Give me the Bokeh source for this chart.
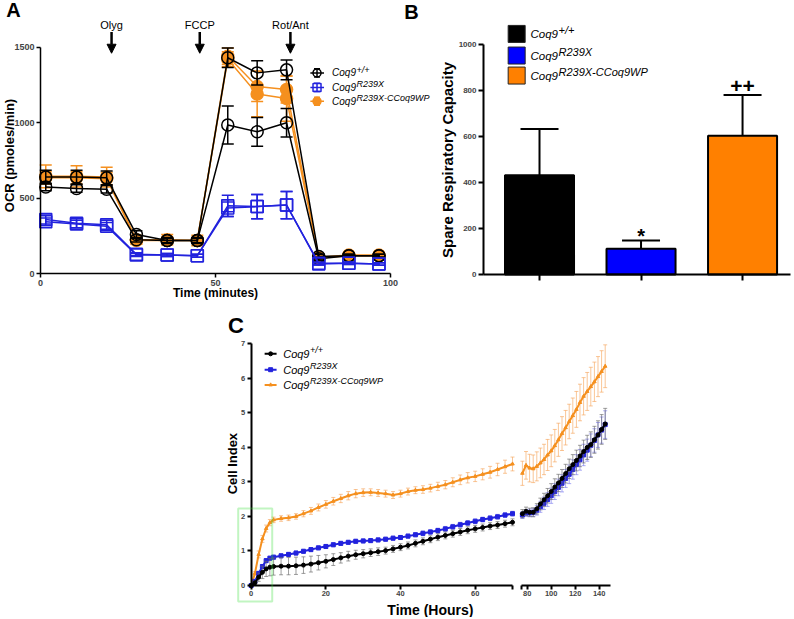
import math
from bokeh.plotting import figure
from bokeh.layouts import column, row
from bokeh.models import Range1d, Arrow, NormalHead, FixedTicker, BoxAnnotation
from bokeh.core.properties import value
from bokeh.embed import file_html
from bokeh.resources import INLINE

FONT = "Liberation Sans"
BLACK = "#000000"
BLUE = "#2222dd"
ORANGE = "#f5901f"
BAR_COLORS = ["#000000", "#0000ff", "#ff8000"]

# ---------------- shared legend text ----------------
genotype_base = "Coq9"
genotype_sup = ["+/+", "R239X", "R239X-CCoq9WP"]

# ---------------- Panel A : OCR ----------------
ocr_minutes = [1.5, 10.3, 18.9, 27.4, 36.2, 44.8, 53.5, 61.9, 70.3, 79.5, 88.1, 96.7]
ocr_wt_1 = [640, 640, 635, 260, 220, 220, 1430, 1330, 1350, 115, 120, 120]
ocr_wt_1_sd = [45, 45, 45, 25, 20, 20, 65, 80, 65, 15, 10, 10]
ocr_wt_2 = [575, 565, 560, 225, 220, 220, 985, 940, 1000, 100, 120, 120]
ocr_wt_2_sd = [25, 25, 25, 15, 15, 15, 125, 95, 95, 10, 10, 10]
ocr_mut_1 = [360, 335, 325, 130, 125, 120, 450, 445, 455, 70, 70, 65]
ocr_mut_1_sd = [30, 30, 30, 10, 10, 10, 70, 80, 90, 8, 8, 8]
ocr_mut_2 = [345, 330, 315, 125, 125, 120, 435, 445, 455, 65, 70, 65]
ocr_mut_2_sd = [25, 25, 25, 10, 10, 10, 55, 80, 90, 8, 8, 8]
ocr_res_1 = [645, 645, 640, 225, 225, 220, 1440, 1240, 1220, 110, 125, 125]
ocr_res_1_sd = [75, 70, 65, 30, 35, 35, 55, 100, 90, 10, 10, 10]
ocr_res_2 = [635, 635, 630, 220, 220, 220, 1420, 1190, 1160, 105, 120, 120]
ocr_res_2_sd = [40, 40, 40, 20, 20, 20, 50, 150, 150, 10, 10, 10]
injections = ["Olyg", "FCCP", "Rot/Ant"]
injection_minutes = [20.3, 45.5, 71.4]

# ---------------- Panel B : spare respiratory capacity ----------------
src_values = [432, 112, 603]
src_errors = [201, 36, 177]
src_marks = ["", "*", "++"]

# ---------------- Panel C : cell index ----------------
cl_hours = [0, 1, 2, 3, 4, 5, 6, 8, 10, 12, 14, 16, 18, 20, 22, 24, 26, 28, 30, 32,
            34, 36, 38, 40, 42, 44, 46, 48, 50, 52, 54, 56, 58, 60, 62, 64, 66, 68, 70]
ci_wt_l = [0.00, 0.08, 0.24, 0.38, 0.48, 0.53, 0.55, 0.56, 0.56, 0.57, 0.59, 0.62, 0.66, 0.70,
           0.75, 0.80, 0.85, 0.89, 0.92, 0.95, 0.98, 1.01, 1.06, 1.11, 1.16, 1.22, 1.28, 1.34,
           1.40, 1.45, 1.50, 1.55, 1.60, 1.64, 1.68, 1.72, 1.75, 1.79, 1.83]
ci_wt_l_sd = [0.00, 0.05, 0.12, 0.18, 0.22, 0.25, 0.25, 0.25, 0.25, 0.25, 0.24, 0.23, 0.21, 0.19,
              0.17, 0.15, 0.14, 0.13, 0.12, 0.11, 0.11, 0.10, 0.10, 0.10, 0.10, 0.10, 0.10, 0.10,
              0.10, 0.10, 0.10, 0.10, 0.10, 0.10, 0.10, 0.10, 0.10, 0.10, 0.10]
ci_mut_l = [0.00, 0.12, 0.35, 0.55, 0.72, 0.79, 0.82, 0.86, 0.90, 0.94, 0.99, 1.04, 1.09, 1.13,
            1.18, 1.22, 1.25, 1.28, 1.29, 1.30, 1.32, 1.34, 1.37, 1.39, 1.43, 1.47, 1.51, 1.55,
            1.59, 1.64, 1.70, 1.76, 1.81, 1.86, 1.91, 1.95, 1.99, 2.04, 2.08]
ci_mut_l_sd = [0.00, 0.04, 0.06, 0.06, 0.06, 0.06, 0.06, 0.06, 0.06, 0.06, 0.06, 0.06, 0.06, 0.06,
               0.06, 0.06, 0.06, 0.06, 0.06, 0.06, 0.06, 0.06, 0.06, 0.06, 0.06, 0.06, 0.07, 0.07,
               0.07, 0.07, 0.07, 0.07, 0.07, 0.07, 0.07, 0.07, 0.07, 0.07, 0.07]
ci_res_l = [0.00, 0.35, 0.90, 1.35, 1.65, 1.82, 1.90, 1.94, 1.96, 2.00, 2.08, 2.16, 2.26, 2.35,
            2.44, 2.52, 2.60, 2.66, 2.69, 2.70, 2.68, 2.66, 2.62, 2.66, 2.72, 2.76, 2.78, 2.82,
            2.87, 2.92, 2.99, 3.06, 3.12, 3.16, 3.22, 3.28, 3.36, 3.44, 3.52]
ci_res_l_sd = [0.00, 0.05, 0.10, 0.10, 0.10, 0.09, 0.08, 0.08, 0.08, 0.08, 0.09, 0.10, 0.10, 0.11,
               0.11, 0.12, 0.12, 0.12, 0.11, 0.10, 0.10, 0.10, 0.10, 0.10, 0.10, 0.10, 0.11, 0.11,
               0.12, 0.12, 0.13, 0.14, 0.15, 0.15, 0.16, 0.17, 0.18, 0.19, 0.20]

cr_hours = [76, 79, 82, 85, 88, 91, 94, 97, 100, 103, 106, 109, 112, 115, 118, 121, 124,
            127, 130, 133, 136, 139, 142, 145]
ci_wt_r = [2.08, 2.15, 2.12, 2.12, 2.22, 2.36, 2.48, 2.60, 2.72, 2.85, 2.97, 3.10, 3.24, 3.38,
           3.50, 3.62, 3.75, 3.88, 4.00, 4.08, 4.22, 4.36, 4.52, 4.68]
ci_wt_r_sd = [0.12, 0.12, 0.12, 0.13, 0.15, 0.17, 0.19, 0.21, 0.23, 0.24, 0.25, 0.26, 0.27, 0.28,
              0.29, 0.30, 0.31, 0.33, 0.35, 0.37, 0.39, 0.41, 0.43, 0.45]
ci_mut_r = [2.04, 2.10, 2.10, 2.12, 2.18, 2.28, 2.38, 2.49, 2.60, 2.72, 2.84, 2.96, 3.10, 3.22,
            3.36, 3.50, 3.64, 3.78, 3.92, 4.06, 4.20, 4.36, 4.50, 4.66]
ci_mut_r_sd = [0.10, 0.10, 0.11, 0.12, 0.14, 0.16, 0.18, 0.20, 0.22, 0.23, 0.24, 0.25, 0.26, 0.27,
               0.28, 0.29, 0.30, 0.31, 0.32, 0.33, 0.34, 0.36, 0.38, 0.40]
ci_res_r = [3.25, 3.48, 3.40, 3.38, 3.45, 3.55, 3.65, 3.78, 3.90, 4.05, 4.22, 4.40, 4.57, 4.75,
            4.92, 5.10, 5.30, 5.48, 5.62, 5.76, 5.90, 6.05, 6.20, 6.35]
ci_res_r_sd = [0.35, 0.40, 0.40, 0.40, 0.42, 0.43, 0.44, 0.45, 0.46, 0.47, 0.48, 0.49, 0.50, 0.50,
               0.51, 0.52, 0.53, 0.54, 0.55, 0.56, 0.57, 0.58, 0.60, 0.62]


def make_fig(w, h, xr, yr, y_axis=True):
    p = figure(width=w, height=h, x_range=xr, y_range=yr, output_backend="svg",
               toolbar_location=None, min_border=0,
               y_axis_location="left" if y_axis else None)
    p.grid.visible = False
    p.outline_line_color = None
    p.background_fill_color = "white"
    p.border_fill_color = "white"
    return p


def style_axes(p, tick_fs, lw=2, tick_out=5):
    for ax in p.axis:
        ax.fixed_location = 0
        ax.axis_line_width = lw
        ax.major_tick_line_width = lw
        ax.major_tick_in = 0
        ax.major_tick_out = tick_out
        ax.minor_tick_line_color = None
        ax.major_label_text_font = FONT
        ax.major_label_text_font_style = "bold"
        ax.major_label_text_font_size = f"{tick_fs}px"
        ax.major_label_standoff = 2


def ptext(p, x, y, t, fs, bold=True, italic=False, angle=0.0, align="center", baseline="middle",
          x_off=0, y_off=0):
    style = "bold" if bold else "normal"
    if italic:
        style = "bold italic" if bold else "italic"
    p.text(x=[x], y=[y], text=[t], text_font=value(FONT), text_font_style=style,
           text_font_size=f"{fs}px", text_align=align, text_baseline=baseline, angle=angle,
           x_offset=x_off, y_offset=y_off, text_color="black")


def geno_text(p, x, y, sup, fs, sfs):
    ptext(p, x, y, genotype_base, fs, bold=False, italic=True, align="left")
    ptext(p, x, y, sup, sfs, bold=False, italic=True, align="left",
          x_off=2.39 * fs + 0.5, y_off=-0.32 * fs)


def err_bars(p, xs, ys, es, color, lw, cap, alpha=1.0):
    lo = [y - e for y, e in zip(ys, es)]
    hi = [y + e for y, e in zip(ys, es)]
    p.segment(x0=xs, y0=lo, x1=xs, y1=hi, line_color=color, line_width=lw, line_alpha=alpha)
    p.scatter(x=xs, y=hi, marker="dash", size=cap, line_color=color, line_width=lw, line_alpha=alpha)
    p.scatter(x=xs, y=lo, marker="dash", size=cap, line_color=color, line_width=lw, line_alpha=alpha)


# ================= Panel A =================
pA = make_fig(438, 300, Range1d(-11.43, 113.71), Range1d(-176.7, 1809.1))
style_axes(pA, 9, lw=1.5, tick_out=4)
pA.xaxis.bounds = (0, 100)
pA.xaxis.ticker = FixedTicker(ticks=[0, 50, 100])
pA.yaxis.bounds = (0, 1500)
pA.yaxis.ticker = FixedTicker(ticks=[0, 500, 1000, 1500])

a_series = [
    (ocr_res_1, ocr_res_1_sd, ORANGE, "circle", True),
    (ocr_res_2, ocr_res_2_sd, ORANGE, "circle", True),
    (ocr_wt_1, ocr_wt_1_sd, BLACK, "circle", False),
    (ocr_wt_2, ocr_wt_2_sd, BLACK, "circle", False),
    (ocr_mut_1, ocr_mut_1_sd, BLUE, "square", False),
    (ocr_mut_2, ocr_mut_2_sd, BLUE, "square", False),
]
for ys, es, col, mk, filled in a_series:
    err_bars(pA, ocr_minutes, ys, es, col, 1.5, 12)
    pA.line(ocr_minutes, ys, line_color=col, line_width=1.5)
    pA.scatter(ocr_minutes, ys, marker=mk, size=12, line_color=col, line_width=1.5,
               fill_color=col if filled else None)

for t in injection_minutes:
    pA.add_layout(Arrow(end=NormalHead(size=9, fill_color="black", line_color="black", line_width=1),
                        x_start=t, y_start=1600, x_end=t, y_end=1460,
                        line_width=2.5, line_color="black"))
for t, name in zip(injection_minutes, injections):
    ptext(pA, t, 1650, name, 11, bold=False)

# legend A (sample = line, error bar and marker)
a_leg_y = [1330, 1234, 1142]
a_leg_style = [(BLACK, "circle", False), (BLUE, "square", False), (ORANGE, "circle", True)]
for yy, (col, mk, filled), sup in zip(a_leg_y, a_leg_style, genotype_sup):
    pA.segment(x0=[77.1], y0=[yy], x1=[81.0], y1=[yy], line_color=col, line_width=1.5)
    err_bars(pA, [79.0], [yy], [27], col, 1.5, 6)
    pA.scatter(x=[79.0], y=[yy], marker=mk, size=8, line_color=col, line_width=1.5,
               fill_color=col if filled else None)
    geno_text(pA, 83.3, yy, sup, 10, 9)

ptext(pA, 50, -124, "Time (minutes)", 12)
ptext(pA, -8.9, 783, "OCR (pmoles/min)", 13, angle=math.pi / 2)
ptext(pA, -7.7, 1743, "A", 20)
ptext(pA, 106, 1736, "B", 20)

# ================= Panel B =================
bar_x = [i + 1 for i in range(len(src_values))]
pB = make_fig(354, 300, Range1d(0.005, 3.492), Range1d(-113, 1191.3))
style_axes(pB, 8, lw=2, tick_out=5)
pB.yaxis.fixed_location = 0.448
pB.yaxis.bounds = (0, 1000)
pB.yaxis.ticker = FixedTicker(ticks=[0, 200, 400, 600, 800, 1000])
pB.xaxis.bounds = (0.448, 3.473)
pB.xaxis.ticker = FixedTicker(ticks=bar_x)
pB.xaxis.major_label_overrides = {x: "" for x in bar_x}
pB.xaxis.major_tick_out = 6

upper = [v + e for v, e in zip(src_values, src_errors)]
pB.segment(x0=bar_x, y0=src_values, x1=bar_x, y1=upper, line_color="black", line_width=2)
pB.scatter(x=bar_x, y=upper, marker="dash", size=38, line_color="black", line_width=2)
pB.vbar(x=bar_x, top=src_values, width=0.68, fill_color=BAR_COLORS, line_color="black", line_width=2)
for x, u, m in zip(bar_x, upper, src_marks):
    if m == "*":
        ptext(pB, x, u, m, 20, baseline="alphabetic", y_off=-4)
    elif m:
        ptext(pB, x, u, m, 21, baseline="alphabetic", y_off=-9)

b_leg_y = [1046, 952, 865]
for yy, col, sup in zip(b_leg_y, BAR_COLORS, genotype_sup):
    pB.scatter(x=[0.775], y=[yy], marker="square", size=17, fill_color=col, line_color="#222222",
               line_width=1)
    geno_text(pB, 0.911, yy, sup, 11.5, 11)
ptext(pB, 0.094, 498, "Spare Respiratory Capacity", 15, angle=math.pi / 2)

# ================= Panel C =================
yr = Range1d(-0.927, 8.254)
pCL = make_fig(516, 317, Range1d(-67.16, 71.07), yr)
pCR = make_fig(276, 317, Range1d(71.08, 301.1), yr, y_axis=False)
style_axes(pCL, 7.5, lw=2, tick_out=4)
style_axes(pCR, 7.5, lw=2, tick_out=4)
pCL.yaxis.bounds = (0, 7)
pCL.yaxis.ticker = FixedTicker(ticks=[0, 1, 2, 3, 4, 5, 6, 7])
pCL.xaxis.bounds = (0, 70)
pCL.xaxis.ticker = FixedTicker(ticks=[0, 20, 40, 60, 70])
pCL.xaxis.major_label_overrides = {70: ""}
pCR.xaxis.bounds = (75, 149.5)
pCR.xaxis.ticker = FixedTicker(ticks=[75, 80, 100, 120, 140])
pCR.xaxis.major_label_overrides = {75: ""}

c_series = [
    (ci_res_l, ci_res_l_sd, ci_res_r, ci_res_r_sd, ORANGE, "#f5a35a", "triangle", 3.5),
    (ci_mut_l, ci_mut_l_sd, ci_mut_r, ci_mut_r_sd, BLUE, "#7777ee", "square", 4),
    (ci_wt_l, ci_wt_l_sd, ci_wt_r, ci_wt_r_sd, BLACK, "#666666", "circle", 4),
]
for yl, el, yrr, er, col, ecol, mk, sz in c_series:
    for p, xs, ys, es in ((pCL, cl_hours, yl, el), (pCR, cr_hours, yrr, er)):
        err_bars(p, xs, ys, es, ecol, 0.8, 4, alpha=0.8)
        p.line(xs, ys, line_color=col, line_width=2)
        p.scatter(xs, ys, marker=mk, size=sz, line_color=col, fill_color=col)

c_leg_y = [6.71, 6.25, 5.81]
for yy, (_, _, _, _, col, _, mk, sz), sup in zip(c_leg_y, c_series[::-1], genotype_sup):
    pCL.segment(x0=[3.6], y0=[yy], x1=[6.8], y1=[yy], line_color=col, line_width=2)
    pCL.scatter(x=[5.2], y=[yy], marker=mk, size=sz, line_color=col, fill_color=col)
    geno_text(pCL, 8.57, yy, sup, 11, 9)

pCL.add_layout(BoxAnnotation(left=-3.48, right=5.63, bottom=-0.46, top=2.23,
                             fill_alpha=0, line_color="#33dd33", line_width=2))
ptext(pCL, 48.0, -0.71, "Time (Hours)", 14)
ptext(pCL, -4.9, 3.53, "Cell Index", 13, angle=math.pi / 2)
ptext(pCL, -4.07, 7.53, "C", 22)

layout = column(row(pA, pB), row(pCL, pCR))
open("out.html", "w").write(file_html(layout, INLINE))
